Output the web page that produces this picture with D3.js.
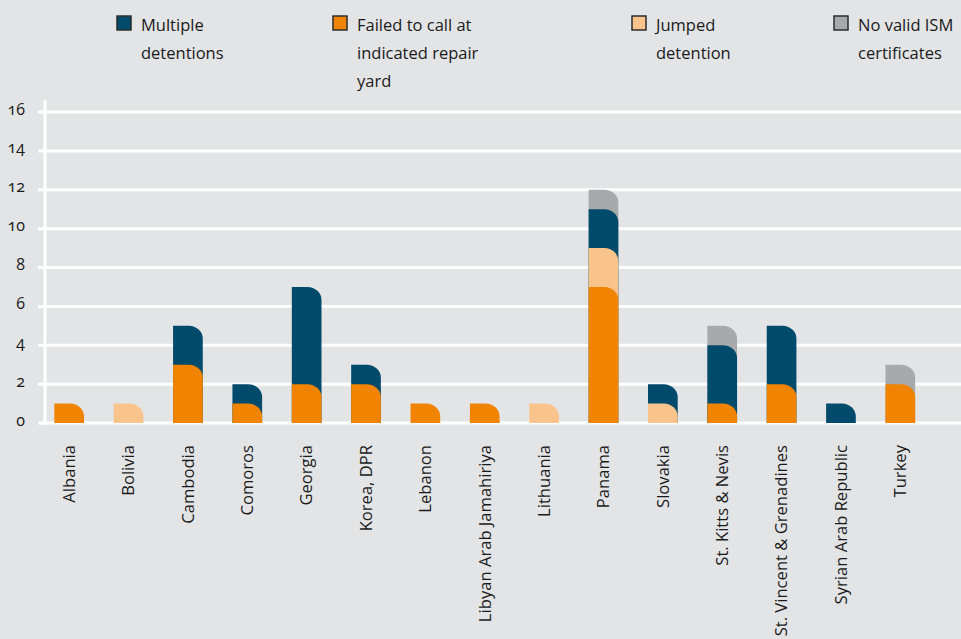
<!DOCTYPE html>
<head>
<style type="text/css">
	body { margin: 0; background: #e3e4e6; }
	text { font-family: "Open Sans", sans-serif; fill: #1a1a1a; }
</style>
</head>
<script src="https://d3js.org/d3.v7.min.js"></script>
<body>
	<svg width="961" height="639"></svg>
	<script>
	var svg = d3.select("svg"),
			width = +svg.attr("width"),
			height = +svg.attr("height");

	// data
	var countries = ["Albania", "Bolivia", "Cambodia", "Comoros", "Georgia", "Korea, DPR", "Lebanon",
		"Libyan Arab Jamahiriya", "Lithuania", "Panama", "Slovakia", "St. Kitts & Nevis",
		"St. Vincent & Grenadines", "Syrian Arab Republic", "Turkey"];
	var failedToCall = [1, 0, 3, 1, 2, 2, 1, 1, 0, 7, 0, 1, 2, 0, 2];
	var jumped       = [0, 1, 0, 0, 0, 0, 0, 0, 1, 2, 1, 0, 0, 0, 0];
	var multiple     = [0, 0, 2, 1, 5, 1, 0, 0, 0, 2, 1, 3, 3, 1, 0];
	var noValidISM   = [0, 0, 0, 0, 0, 0, 0, 0, 0, 1, 0, 1, 0, 0, 1];
	var yTicks = [0, 2, 4, 6, 8, 10, 12, 14, 16];

	// stacking order bottom -> top
	var series = [
		{ name: "Failed to call at indicated repair yard", values: failedToCall, color: "#f08300" },
		{ name: "Jumped detention", values: jumped, color: "#f9c38c" },
		{ name: "Multiple detentions", values: multiple, color: "#004a6b" },
		{ name: "No valid ISM certificates", values: noValidISM, color: "#a8a9ab" }
	];
	var legendItems = [
		{ lines: ["Multiple", "detentions"], color: "#004a6b", x: 117 },
		{ lines: ["Failed to call at", "indicated repair", "yard"], color: "#f08300", x: 333 },
		{ lines: ["Jumped", "detention"], color: "#f9c38c", x: 632 },
		{ lines: ["No valid ISM", "certificates"], color: "#a8a9ab", x: 834 }
	];

	var x = d3.scaleBand()
		.domain(countries)
		.range([39.5, 930])
		.paddingInner(0.5)
		.paddingOuter(0.25);

	var y = d3.scaleLinear()
		.domain([0, 16])
		.range([423, 112]);

	// grid
	svg.append("g")
		.selectAll("line")
		.data(yTicks)
		.enter().append("line")
		.attr("x1", 38)
		.attr("x2", width)
		.attr("y1", function(d) { return y(d); })
		.attr("y2", function(d) { return y(d); })
		.attr("stroke", "#fff")
		.attr("stroke-width", 3);

	svg.append("line")
		.attr("x1", 45).attr("x2", 45)
		.attr("y1", 100).attr("y2", 425)
		.attr("stroke", "#fff")
		.attr("stroke-width", 3);

	svg.append("g")
		.selectAll("text")
		.data(yTicks)
		.enter().append("text")
		.attr("x", 25)
		.attr("y", function(d) { return y(d) - 3; })
		.attr("dy", "0.35em")
		.attr("text-anchor", "end")
		.style("font-size", "16px")
		.style("font-variant-numeric", "oldstyle-nums")
		.text(function(d) { return d; });

	// cumulative tops
	var cum = countries.map(function() { return 0; });
	series.forEach(function(s) {
		s.tops = s.values.map(function(v, i) { cum[i] += v; return cum[i]; });
	});

	function tab(x0, w, yTop, yBase) {
		var rx = 14, ry = Math.min(13, yBase - yTop);
		return "M" + x0 + "," + yBase +
			"V" + yTop +
			"H" + (x0 + w - rx) +
			"A" + rx + "," + ry + " 0 0 1 " + (x0 + w) + "," + (yTop + ry) +
			"V" + yBase + "Z";
	}

	// draw top series first so lower segments overlap and show the corner behind
	var bars = svg.append("g");
	series.slice().reverse().forEach(function(s) {
		bars.append("g")
			.selectAll("path")
			.data(countries.filter(function(c, i) { return s.values[i] > 0; }))
			.enter().append("path")
			.attr("fill", s.color)
			.attr("d", function(c) {
				var i = countries.indexOf(c);
				return tab(x(c), x.bandwidth(), y(s.tops[i]), y(0));
			});
	});

	// category labels
	svg.append("g")
		.selectAll("text")
		.data(countries)
		.enter().append("text")
		.attr("transform", function(d) {
			return "translate(" + (x(d) + x.bandwidth() / 2) + ",445) rotate(-90)";
		})
		.attr("dy", "0.35em")
		.attr("text-anchor", "end")
		.style("font-size", "16.6px")
		.text(function(d) { return d; });

	// legend
	var lg = svg.append("g").selectAll("g")
		.data(legendItems)
		.enter().append("g");

	lg.append("rect")
		.attr("x", function(d) { return d.x; })
		.attr("y", 16)
		.attr("width", 14)
		.attr("height", 14)
		.attr("fill", function(d) { return d.color; })
		.attr("stroke", "#2b2b2b")
		.attr("stroke-width", 1.5);

	lg.each(function(d) {
		var t = d3.select(this).append("text")
			.attr("x", d.x + 24)
			.attr("y", 31)
			.style("font-size", "16.5px");
		d.lines.forEach(function(l, k) {
			t.append("tspan")
				.attr("x", d.x + 24)
				.attr("y", 31 + k * 28)
				.attr("textLength", null)
				.text(l);
		});
	});
	</script>
</body>
